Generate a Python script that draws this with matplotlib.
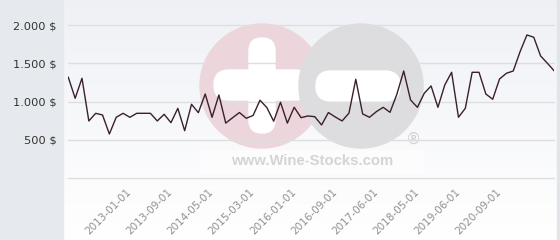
import matplotlib
matplotlib.use("Agg")
import matplotlib.pyplot as plt
import numpy as np
from matplotlib.patches import Circle, FancyBboxPatch, Rectangle

# monthly-ish price points (categorical x axis)
prices = [1318, 1044, 1305, 748, 848, 826, 578, 796, 848, 796,
          848, 848, 848, 748, 835, 726, 913, 621, 966, 856,
          1100, 796, 1087, 720, 790, 858, 783, 820, 1018, 924,
          745, 992, 720, 927, 791, 813, 804, 696, 858, 800,
          748, 850, 1292, 840, 796, 869, 926, 861, 1096, 1400,
          1022, 926, 1109, 1205, 926, 1218, 1383, 796, 913, 1383,
          1383, 1100, 1031, 1296, 1370, 1400, 1652, 1870, 1840, 1596,
          1500, 1400]
tick_labels = ["2013-01-01", "2013-09-01", "2014-05-01", "2015-03-01", "2016-01-01",
               "2016-09-01", "2017-06-01", "2018-05-01", "2019-06-01", "2020-09-01"]
y_ticks = [0, 500, 1000, 1500, 2000]
y_labels = ["", "500 $", "1.000 $", "1.500 $", "2.000 $"]

W, H = 560, 240
fig = plt.figure(figsize=(W / 100, H / 100), dpi=100)

# background layer in pixel coordinates
bg = fig.add_axes([0, 0, 1, 1])
bg.set_xlim(0, W)
bg.set_ylim(H, 0)
bg.axis("off")
grad = np.linspace(0, 1, 256).reshape(-1, 1)
top = np.array([0.935, 0.942, 0.962])
bot = np.array([1.0, 1.0, 1.0])
img = top + (bot - top) * grad[..., None] ** 0.9
bg.imshow(img, extent=[63, 557, H, 0], aspect="auto", zorder=0)
bg.add_patch(Rectangle((0, 0), 63, H, color="#e6e9ed", zorder=1))
bg.add_patch(Rectangle((557, 0), 3, H, color="#e1e4e8", zorder=1))

# watermark
bg.add_patch(Circle((262, 86), 62, color="#ecd6dc", zorder=2))
bg.add_patch(FancyBboxPatch((249, 38), 26, 95, boxstyle="round,pad=0,rounding_size=13",
                            color="white", zorder=3))
bg.add_patch(FancyBboxPatch((214, 70), 96, 30, boxstyle="round,pad=0,rounding_size=15",
                            color="white", zorder=3))
bg.add_patch(Circle((361, 86), 62, color="#dddddf", zorder=4))
bg.add_patch(FancyBboxPatch((316, 71), 84, 30, boxstyle="round,pad=0,rounding_size=15",
                            color="white", zorder=5))
bg.add_patch(Rectangle((200, 150), 222, 23, color="white", alpha=0.55, zorder=5))
bg.text(312, 161, "www.Wine-Stocks.com", family="Liberation Sans", weight="bold",
        fontsize=10.7, color="#d4d4d4", ha="center", va="center", zorder=6)
bg.text(413, 139, "\u00ae", fontsize=11, color="#d0d0d0", ha="center", va="center", zorder=6)

# main chart
x0, x1 = 68.3, 554.3
y0, y1 = 178.3, 25
ax = fig.add_axes([x0 / W, (H - y0) / H, (x1 - x0) / W, (y0 - y1) / H])
ax.set_facecolor("none")
x = np.arange(len(prices))
ax.plot(x, prices, color="#3a1f2c", lw=1.0, zorder=3)
ax.set_xlim(0, len(prices) - 1)
ax.set_ylim(0, 2000)

for s in ax.spines.values():
    s.set_visible(False)

ax.set_yticks(y_ticks)
ax.set_yticklabels(y_labels, fontsize=8.2, color="#333333")
ax.grid(axis="y", color="#dedede", lw=1)
for gl in ax.get_ygridlines():
    gl.set_clip_on(False)
ax.tick_params(axis="y", length=0, pad=8.5)

tick_pos = [9 + 6 * i for i in range(len(tick_labels))]
ax.set_xticks(tick_pos)
ax.set_xticklabels(tick_labels, rotation=45, ha="right", va="center",
                   rotation_mode="anchor", fontsize=7.5, color="#909090")
ax.tick_params(axis="x", length=0, pad=9)

fig.savefig("out.png", dpi=100)
